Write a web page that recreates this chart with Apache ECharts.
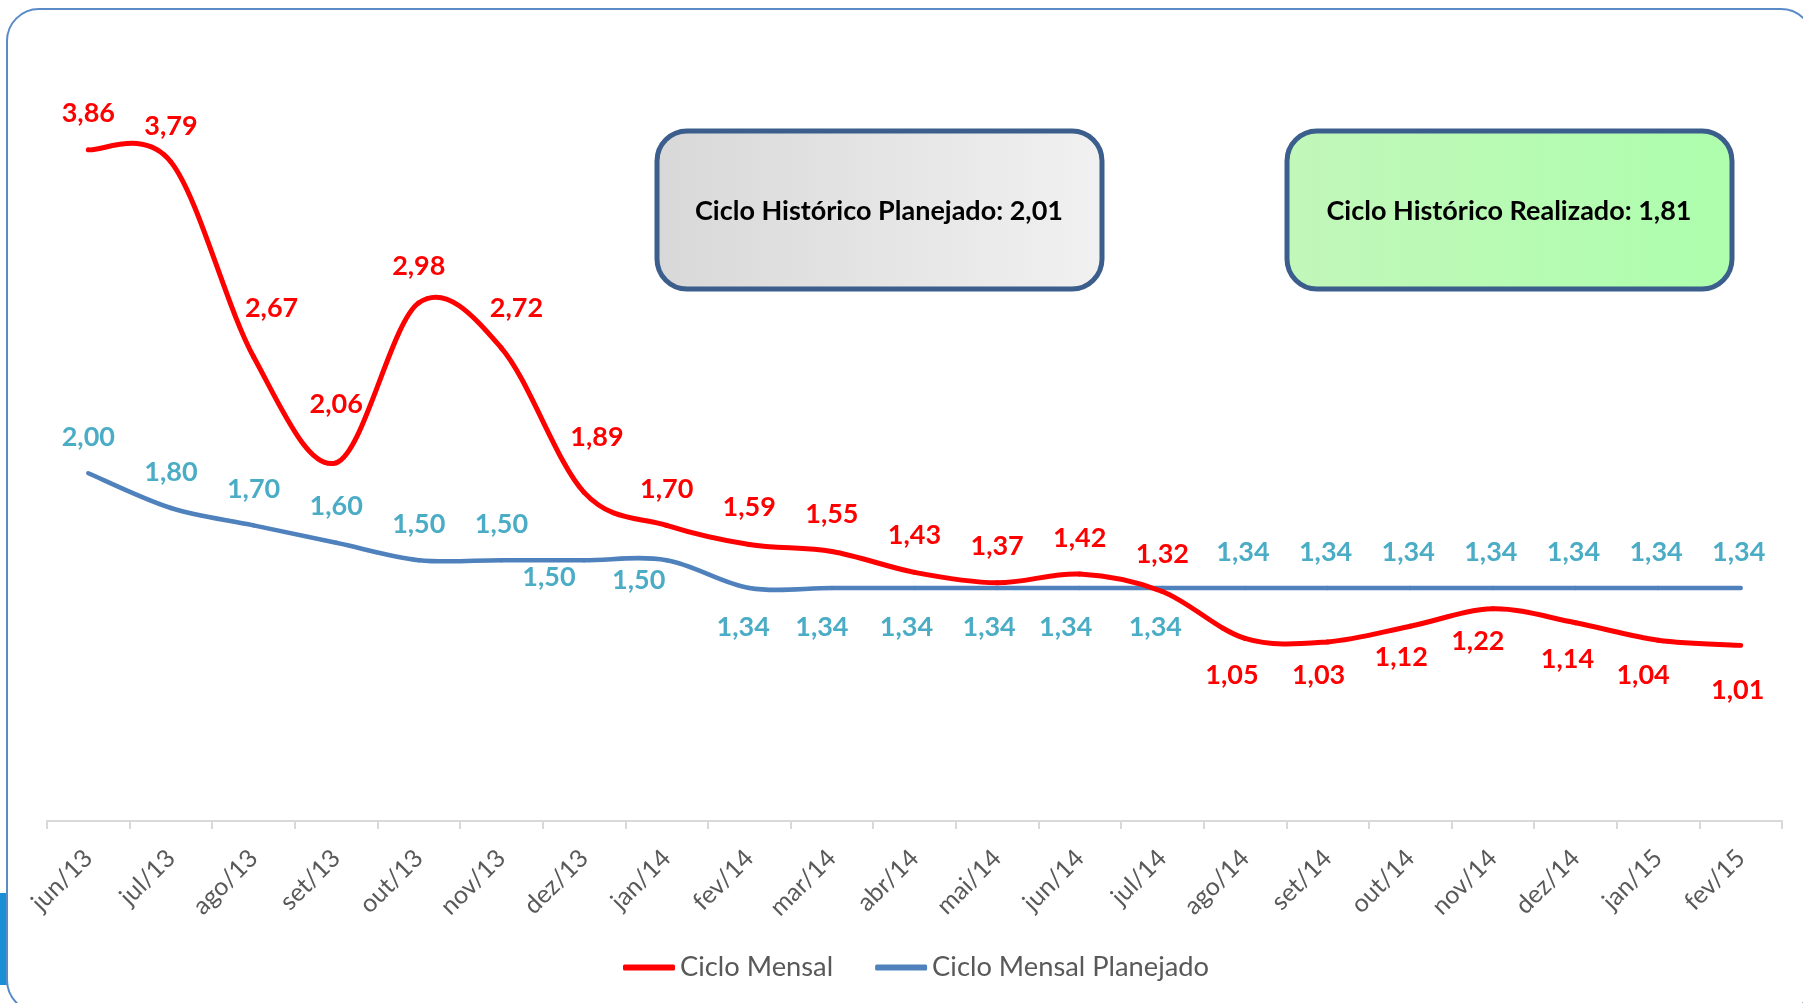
<!DOCTYPE html>
<html>
<head>
<meta charset="UTF-8">
<title>Ciclo Mensal</title>
<script src="https://cdn.jsdelivr.net/npm/echarts@6/dist/echarts.min.js"></script>
<style>
  html, body { margin: 0; padding: 0; background: #fff; }
  #container { width: 1803px; height: 1003px; }
</style>
</head>
<body>
<div id="container"></div>
<script type="text/javascript">
    // categorias (meses)
    var meses = ['jun/13', 'jul/13', 'ago/13', 'set/13', 'out/13', 'nov/13', 'dez/13', 'jan/14',
                 'fev/14', 'mar/14', 'abr/14', 'mai/14', 'jun/14', 'jul/14', 'ago/14', 'set/14',
                 'out/14', 'nov/14', 'dez/14', 'jan/15', 'fev/15'];

    // ciclo mensal realizado
    var cicloMensal = [3.86, 3.79, 2.67, 2.06, 2.98, 2.72, 1.89, 1.70, 1.59, 1.55, 1.43,
                       1.37, 1.42, 1.32, 1.05, 1.03, 1.12, 1.22, 1.14, 1.04, 1.01];

    // ciclo mensal planejado
    var cicloPlanejado = [2.00, 1.80, 1.70, 1.60, 1.50, 1.50, 1.50, 1.50, 1.34, 1.34, 1.34,
                          1.34, 1.34, 1.34, 1.34, 1.34, 1.34, 1.34, 1.34, 1.34, 1.34];

    var cicloHistPlanejado = 2.01;
    var cicloHistRealizado = 1.81;

    // deslocamento dos rótulos (px) em relação ao ponto
    var deslocVermelho = [[0,-36],[0,-36],[18,-48],[0,-58],[0,-37],[15,-40],[13,-55],[0,-36],
                          [0,-37],[0,-37],[0,-37],[0,-36],[0,-36],[0,-37],[-13,37],[-9,33],
                          [-9,31],[-15,32],[-8,37],[-15,35],[-3,45]];
    var deslocAzul = [[0,-36],[0,-36],[0,-36],[0,-36],[0,-36],[0,-36],[-35,17],[-28,20],
                      [-6,39],[-10,39],[-8,39],[-8,39],[-14,39],[-7,39],[-2,-36],[-2,-36],
                      [-2,-36],[-2,-36],[-2,-36],[-2,-36],[-2,-36]];

    function fmt(v) { return v.toFixed(2).replace('.', ','); }

    function montaDados(valores, desloc) {
        var out = [];
        for (var i = 0; i < valores.length; i++) {
            out.push({ value: valores[i], label: { offset: desloc[i] } });
        }
        return out;
    }

    function pares(valores) {
        return valores.map(function (v, i) { return [i, v]; });
    }

    // curva suavizada estilo Excel (bezier Catmull-Rom), um trecho por ponto
    function curva(valores, cor, largura) {
        return function (params, api) {
            var i = params.dataIndex;
            if (i === 0) return null;
            var n = valores.length;
            var p = function (k) {
                k = Math.max(0, Math.min(n - 1, k));
                return api.coord([k, valores[k]]);
            };
            var p0 = p(i - 2), p1 = p(i - 1), p2 = p(i), p3 = p(i + 1);
            return {
                type: 'bezierCurve',
                shape: {
                    x1: p1[0], y1: p1[1],
                    cpx1: p1[0] + (p2[0] - p0[0]) / 6, cpy1: p1[1] + (p2[1] - p0[1]) / 6,
                    cpx2: p2[0] - (p3[0] - p1[0]) / 6, cpy2: p2[1] - (p3[1] - p1[1]) / 6,
                    x2: p2[0], y2: p2[1]
                },
                style: { stroke: cor, lineWidth: largura, fill: null, lineCap: 'round' }
            };
        };
    }

    var fonte = 'Lato, "Open Sans", sans-serif';

    var mychart = echarts.init(document.getElementById('container'));
    var option = {
        backgroundColor: '#ffffff',
        animation: false,
        grid: { left: 47, right: 21, top: 38.5, bottom: 182 },
        legend: {
            left: 618,
            top: 949,
            icon: 'roundRect',
            itemWidth: 52,
            itemHeight: 6,
            itemGap: 42,
            textStyle: { fontFamily: fonte, fontSize: 27.3, color: '#595959' },
            data: ['Ciclo Mensal', 'Ciclo Mensal Planejado']
        },
        xAxis: {
            type: 'category',
            data: meses,
            boundaryGap: true,
            axisLine: { lineStyle: { color: '#D9D9D9', width: 2 } },
            axisTick: { show: true, length: 8, lineStyle: { color: '#D9D9D9', width: 2 } },
            axisLabel: { rotate: 45, margin: 33, fontFamily: fonte, fontSize: 25, color: '#595959' }
        },
        yAxis: { type: 'value', min: 0, max: 4.5, show: false },
        series: [
            {
                name: 'Ciclo Mensal',
                type: 'line',
                symbol: 'circle',
                symbolSize: 1,
                z: 5,
                itemStyle: { color: '#FF0000' },
                lineStyle: { color: '#FF0000', width: 0, opacity: 0 },
                label: {
                    show: true, position: 'inside', color: '#FF0000',
                    fontFamily: fonte, fontWeight: 'bold', fontSize: 27,
                    formatter: function (p) { return fmt(p.value); }
                },
                data: montaDados(cicloMensal, deslocVermelho)
            },
            {
                name: 'Ciclo Mensal Planejado',
                type: 'line',
                symbol: 'circle',
                symbolSize: 1,
                z: 5,
                itemStyle: { color: '#4F81BD' },
                lineStyle: { color: '#4F81BD', width: 0, opacity: 0 },
                label: {
                    show: true, position: 'inside', color: '#4BACC6',
                    fontFamily: fonte, fontWeight: 'bold', fontSize: 27,
                    formatter: function (p) { return fmt(p.value); }
                },
                data: montaDados(cicloPlanejado, deslocAzul)
            },
            {
                type: 'custom',
                z: 2,
                silent: true,
                renderItem: curva(cicloPlanejado, '#4F81BD', 4.5),
                data: pares(cicloPlanejado)
            },
            {
                type: 'custom',
                z: 3,
                silent: true,
                renderItem: curva(cicloMensal, '#FF0000', 5),
                data: pares(cicloMensal)
            }
        ],
        graphic: [
            {
                type: 'rect', z: -10, silent: true,
                shape: { x: 0, y: 893, width: 9, height: 92 },
                style: { fill: '#1B8FD6' }
            },
            {
                type: 'rect', z: -5, silent: true,
                shape: { x: 7, y: 9, width: 1806, height: 1003, r: 32 },
                style: { fill: '#ffffff', stroke: '#5B8BC7', lineWidth: 2 }
            },
            {
                type: 'group', z: 10,
                children: [
                    {
                        type: 'rect',
                        shape: { x: 657, y: 131, width: 445, height: 158, r: 30 },
                        style: {
                            fill: new echarts.graphic.LinearGradient(0, 0, 1, 0, [
                                { offset: 0, color: '#D8D8D8' }, { offset: 1, color: '#F1F1F1' }
                            ]),
                            stroke: '#3B5E8C', lineWidth: 5
                        }
                    },
                    {
                        type: 'text', x: 879, y: 211,
                        style: {
                            text: 'Ciclo Histórico Planejado: ' + fmt(cicloHistPlanejado),
                            align: 'center', verticalAlign: 'middle',
                            font: 'bold 27px ' + fonte, fill: '#000000'
                        }
                    },
                    {
                        type: 'rect',
                        shape: { x: 1287, y: 131, width: 445, height: 158, r: 30 },
                        style: {
                            fill: new echarts.graphic.LinearGradient(0, 0, 1, 0, [
                                { offset: 0, color: '#C2F7BA' }, { offset: 1, color: '#ADFEAD' }
                            ]),
                            stroke: '#3B5E8C', lineWidth: 5
                        }
                    },
                    {
                        type: 'text', x: 1509, y: 211,
                        style: {
                            text: 'Ciclo Histórico Realizado: ' + fmt(cicloHistRealizado),
                            align: 'center', verticalAlign: 'middle',
                            font: 'bold 27px ' + fonte, fill: '#000000'
                        }
                    }
                ]
            }
        ]
    };

    mychart.setOption(option);
</script>
</body>
</html>
